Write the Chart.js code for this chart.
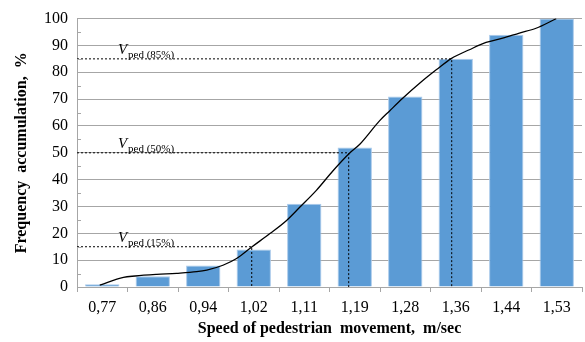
<!DOCTYPE html>
<html lang="en">
  <head>
    <meta charset="UTF-8" />
    <title>Speed of pedestrian movement</title>
    <script src="https://cdn.jsdelivr.net/npm/chart.js@4"></script>
    <style>
      html,
      body {
        margin: 0;
        padding: 0;
        background: #fff;
      }
      #wrap {
        width: 585px;
        height: 342px;
      }
    </style>
  </head>
  <body>
    <div id="wrap"><canvas id="myChart"></canvas></div>
    <script>
      // categories (speed, m/sec)
      const speeds = ["0,77", "0,86", "0,94", "1,02", "1,11", "1,19", "1,28", "1,36", "1,44", "1,53"];
      // cumulative frequency, %
      const accumulation = [1, 4, 8, 14, 31, 52, 71, 85, 94, 100];

      // smoothed curve, position in bar units (0 = first bar)
      const curvePos = [-0.05, 0.42, 0.65, 1.08, 1.47, 1.87, 2.07, 2.39, 2.66, 2.96, 3.32, 3.65, 3.91, 4.24, 4.57, 4.9, 5.1, 5.49, 5.69, 5.96, 6.29, 6.62, 6.91, 7.27, 7.6, 7.93, 8.26, 8.59, 8.99];
      const curveVal = [0.7, 3.6, 4.1, 4.7, 5.1, 5.7, 6.3, 8.1, 10.6, 14.9, 19.9, 24.8, 29.7, 36, 43.3, 49.9, 53.2, 61.9, 65.6, 70.5, 76, 81, 85.1, 88.4, 91.1, 92.7, 94.6, 96.4, 100];

      // V ped percentiles and where they cross the curve
      const refPercent = [15, 50, 85];
      const refPos = [2.96, 4.88, 6.92];

      const yTicks = [0, 10, 20, 30, 40, 50, 60, 70, 80, 90, 100];

      const serif = "'Liberation Serif', 'Times New Roman', serif";

      const refSets = refPercent.map((p, i) => ({
        type: "line",
        xAxisID: "x2",
        data: [
          { x: -0.5, y: p },
          { x: refPos[i], y: p },
          { x: refPos[i], y: 0 },
        ],
        borderColor: "#000",
        borderWidth: 1,
        borderDash: [2, 2],
        pointRadius: 0,
        tension: 0,
        order: 0,
      }));

      // small marks on the y axis between the gridlines + V ped labels
      const extras = {
        id: "extras",
        afterDatasetsDraw(chart) {
          const { ctx, chartArea, scales } = chart;
          const y = scales.y;
          ctx.save();
          ctx.strokeStyle = "#A6A6A6";
          ctx.lineWidth = 1;
          for (let v = 5; v < 100; v += 10) {
            const py = Math.round(y.getPixelForValue(v)) + 0.5;
            ctx.beginPath();
            ctx.moveTo(chartArea.left, py);
            ctx.lineTo(chartArea.left + 4, py);
            ctx.stroke();
          }
          ctx.fillStyle = "#000";
          ctx.textBaseline = "alphabetic";
          refPercent.forEach((p) => {
            const py = y.getPixelForValue(p);
            const x0 = chartArea.left + 41;
            ctx.font = "italic 15px " + serif;
            ctx.fillText("V", x0, py - 5);
            ctx.font = "11px " + serif;
            ctx.fillText("ped (" + p + "%)", x0 + 10, py - 1);
          });
          ctx.restore();
        },
      };

      const ctx = document.getElementById("myChart").getContext("2d");
      new Chart(ctx, {
        type: "bar",
        data: {
          labels: speeds,
          datasets: [
            {
              type: "line",
              xAxisID: "x2",
              data: curvePos.map((x, i) => ({ x: x, y: curveVal[i] })),
              borderColor: "#000",
              borderWidth: 1.3,
              pointRadius: 0,
              cubicInterpolationMode: "monotone",
              order: 0,
            },
            ...refSets,
            {
              xAxisID: "x",
              data: accumulation,
              backgroundColor: "#5B9BD5",
              borderColor: "#A9C9EA",
              borderWidth: 1,
              grouped: false,
              barPercentage: 0.68,
              categoryPercentage: 1,
              order: 1,
            },
          ],
        },
        options: {
          responsive: true,
          maintainAspectRatio: false,
          animation: false,
          layout: { padding: { top: 17, right: 3, bottom: 0, left: 0 } },
          plugins: {
            legend: { display: false },
            tooltip: { enabled: false },
          },
          scales: {
            x: {
              type: "category",
              offset: true,
              grid: {
                offset: true,
                drawOnChartArea: false,
                drawTicks: true,
                tickLength: 5,
                color: "#A6A6A6",
              },
              border: { color: "#A6A6A6" },
              ticks: {
                color: "#000",
                padding: 6,
                font: { family: serif, size: 16 },
                maxRotation: 0,
              },
              title: {
                display: true,
                text: "Speed of pedestrian  movement,  m/sec",
                color: "#000",
                font: { family: serif, size: 16, weight: "bold" },
                padding: { top: 0, bottom: 4 },
              },
              afterFit: (scale) => {
                scale.height = 55;
              },
            },
            x2: {
              type: "linear",
              display: false,
              offset: false,
              grid: { offset: false },
              min: -0.5,
              max: 9.5,
            },
            y: {
              min: 0,
              max: 100,
              afterBuildTicks: (scale) => {
                scale.ticks = yTicks.map((v) => ({ value: v }));
              },
              grid: { color: "#A6A6A6", drawTicks: false },
              border: { color: "#A6A6A6" },
              ticks: {
                color: "#000",
                padding: 9,
                font: { family: serif, size: 16 },
              },
              title: {
                display: true,
                text: "Frequency  accumulation,  %",
                color: "#000",
                font: { family: serif, size: 16, weight: "bold" },
                padding: { top: 12, bottom: 0 },
              },
              afterFit: (scale) => {
                scale.width = 77;
              },
            },
          },
        },
        plugins: [extras],
      });
    </script>
  </body>
</html>
